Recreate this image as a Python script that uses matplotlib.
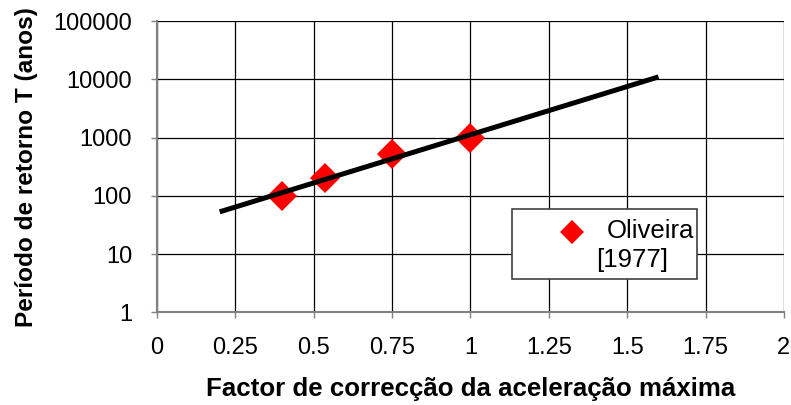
import matplotlib
matplotlib.use("Agg")
import matplotlib.pyplot as plt
from matplotlib.patches import Rectangle

plt.rcParams['font.family'] = ['Liberation Sans', 'DejaVu Sans']

# Observed points (Oliveira, 1977)
factor_obs = [0.40, 0.535, 0.75, 1.0]
period_obs = [100, 205, 520, 1000]

# Fitted relation endpoints
factor_fit = [0.2, 1.6]
period_fit = [53, 11000]

x_ticks = [0, 0.25, 0.5, 0.75, 1, 1.25, 1.5, 1.75, 2]
x_tick_labels = ['0', '0.25', '0.5', '0.75', '1', '1.25', '1.5', '1.75', '2']
y_ticks = [1, 10, 100, 1000, 10000, 100000]
y_tick_labels = ['1', '10', '100', '1000', '10000', '100000']

fig = plt.figure(figsize=(7.91, 4.05), dpi=100)
ax = fig.add_axes([0.1985, 0.229, 0.7925, 0.719])

ax.set_yscale('log')
ax.set_xlim(0, 2)
ax.set_ylim(1, 100000)

ax.set_xticks(x_ticks)
ax.set_xticklabels(x_tick_labels, fontsize=17)
ax.set_yticks(y_ticks)
ax.set_yticklabels(y_tick_labels, fontsize=17)
ax.minorticks_off()
ax.tick_params(axis='both', direction='out', length=4.5, width=1, color='#808080')
ax.tick_params(axis='y', pad=13.5)
ax.tick_params(axis='x', pad=13)

ax.grid(True, color='black', linewidth=0.9)
ax.set_axisbelow(True)
for side in ['top', 'right']:
    ax.spines[side].set_visible(False)
for side in ['left', 'bottom']:
    ax.spines[side].set_color('#808080')
    ax.spines[side].set_linewidth(1.5)

ax.plot(factor_obs, period_obs, linestyle='none', marker='D', markersize=15.5,
        color='#ff0000', markeredgewidth=0, zorder=3)
ax.plot(factor_fit, period_fit, color='black', linewidth=3.6, zorder=4,
        solid_capstyle='butt')

ax.set_xlabel('Factor de correcção da aceleração máxima', fontsize=18.6,
              fontweight='bold', labelpad=13)
ax.set_ylabel('Período de retorno T (anos)', fontsize=17.6, fontweight='bold',
              labelpad=11)

# Legend box
box = Rectangle((0.566, 0.114), 0.296, 0.240, transform=ax.transAxes,
                facecolor='white', edgecolor='#404040', linewidth=1.2, zorder=5)
ax.add_patch(box)
ax.plot([0.662], [0.277], transform=ax.transAxes, marker='D', markersize=12.5,
        color='#ff0000', markeredgewidth=0, linestyle='none', zorder=6,
        clip_on=False)
ax.text(0.718, 0.279, 'Oliveira', transform=ax.transAxes, fontsize=18.5,
        va='center', ha='left', zorder=6)
ax.text(0.758, 0.180, '[1977]', transform=ax.transAxes, fontsize=18.5,
        va='center', ha='center', zorder=6)

fig.savefig('out.png', dpi=100)
